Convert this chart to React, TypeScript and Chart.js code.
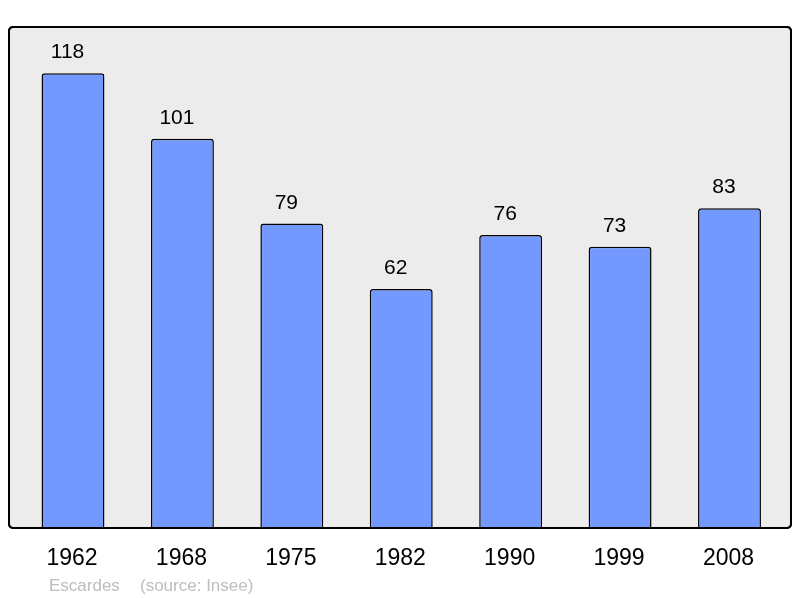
import React, { useEffect, useRef } from "react";
import { Chart, registerables } from "chart.js";

Chart.register(...registerables);

const years = ["1962", "1968", "1975", "1982", "1990", "1999", "2008"];
const population = [118, 101, 79, 62, 76, 73, 83];
const yMax = 130;
const commune = "Escardes";
const source = "(source: Insee)";

const framePlugin = {
  id: "frame",
  beforeDatasetsDraw(chart: any) {
    const ctx = chart.ctx;
    const { top, bottom } = chart.chartArea;
    const left = 9, right = 791, r = 4;
    ctx.save();
    ctx.beginPath();
    ctx.roundRect(left, top, right - left, bottom - top, r);
    ctx.fillStyle = "#ececec";
    ctx.fill();
    ctx.lineWidth = 2;
    ctx.strokeStyle = "#000";
    ctx.stroke();
    ctx.restore();
  },
  afterDatasetsDraw(chart: any) {
    const ctx = chart.ctx;
    const { top, bottom } = chart.chartArea;
    ctx.save();
    ctx.beginPath();
    ctx.roundRect(9, top, 782, bottom - top, 4);
    ctx.lineWidth = 2;
    ctx.strokeStyle = "#000";
    ctx.stroke();
    const meta = chart.getDatasetMeta(0);
    const xScale = chart.scales.x;
    ctx.fillStyle = "#000";
    ctx.textAlign = "center";
    ctx.textBaseline = "alphabetic";
    ctx.font = "21px 'Liberation Sans', Arial, sans-serif";
    meta.data.forEach((bar: any, i: number) => {
      ctx.fillText(String(population[i]), bar.x - 5.5, bar.y - 15);
    });
    ctx.font = "23px 'Liberation Sans', Arial, sans-serif";
    years.forEach((y, i) => {
      ctx.fillText(y, xScale.getPixelForValue(i) - 1, 565);
    });
    ctx.textAlign = "left";
    ctx.fillStyle = "#bdbdbd";
    ctx.font = "17px 'Liberation Sans', Arial, sans-serif";
    ctx.fillText(commune, 49, 591);
    ctx.fillText(source, 140, 591);
    ctx.restore();
  },
};

export default function App() {
  const ref = useRef<HTMLCanvasElement>(null);
  useEffect(() => {
    if (!ref.current) return;
    const chart = new Chart(ref.current, {
      type: "bar",
      data: {
        labels: years,
        datasets: [
          {
            data: population,
            backgroundColor: "#7399ff",
            borderColor: "#000",
            borderWidth: 1.5,
            borderSkipped: "bottom",
            borderRadius: { topLeft: 3, topRight: 3, bottomLeft: 0, bottomRight: 0 },
            categoryPercentage: 1,
            barPercentage: 0.575,
          },
        ],
      },
      options: {
        animation: false,
        responsive: false,
        maintainAspectRatio: false,
        layout: { padding: { left: 18.3, right: 15.8, top: 27, bottom: 70 } },
        plugins: { legend: { display: false }, tooltip: { enabled: false } },
        scales: {
          x: { display: false },
          y: { display: false, min: 0, max: yMax },
        },
      },
      plugins: [framePlugin],
    });
    return () => chart.destroy();
  }, []);
  return (
    <div style={{ position: "absolute", left: 0, top: 0, width: 800, height: 598, background: "#fff" }}>
      <canvas ref={ref} width={800} height={598} style={{ display: "block" }} />
    </div>
  );
}
